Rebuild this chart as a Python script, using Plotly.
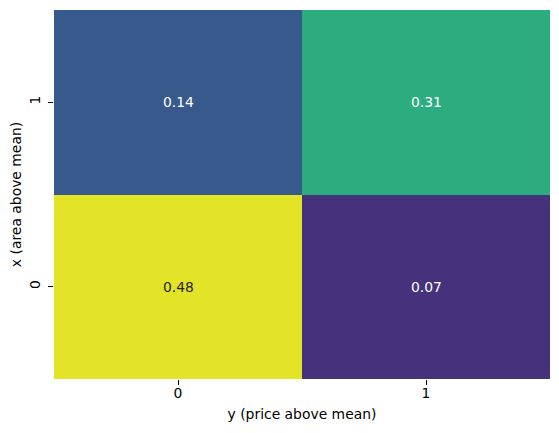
import plotly.graph_objects as go

# Data
x_labels = ["0", "1"]          # y (price above mean)
y_labels = ["0", "1"]          # x (area above mean), bottom to top
row_0 = [0.48, 0.07]
row_1 = [0.14, 0.31]
z = [row_0, row_1]

fig = go.Figure()
fig.add_trace(go.Heatmap(
    z=z, x=x_labels, y=y_labels,
    colorscale="Viridis", zmin=0, zmax=0.5,
    showscale=False, xgap=0, ygap=0,
    hoverinfo="skip",
))

for yi, row in zip(y_labels, z):
    for xi, v in zip(x_labels, row):
        fig.add_annotation(
            x=xi, y=yi, xref="x", yref="y", text=f"{v:.2f}", showarrow=False,
            font=dict(family="DejaVu Sans", size=13.9,
                      color="#262626" if v > 0.4 else "white"),
        )

axis_common = dict(
    type="category", showgrid=False, zeroline=False, showline=False,
    ticks="outside", ticklen=5, tickwidth=1.1, tickcolor="black",
    automargin=False,
    tickfont=dict(family="DejaVu Sans", size=13.9, color="black"),
    title_font=dict(family="DejaVu Sans", size=13.9, color="black"),
)

fig.update_layout(
    width=559, height=433,
    margin=dict(l=46, r=17, t=2, b=62),
    paper_bgcolor="white", plot_bgcolor="white",
    xaxis=dict(axis_common, title=dict(text="y (price above mean)", standoff=9),
               ticklabelstandoff=-4),
    yaxis=dict(axis_common, title=dict(text="x (area above mean)", standoff=4),
               tickangle=-90, ticklabelstandoff=2),
)

fig.write_html("out.html")
